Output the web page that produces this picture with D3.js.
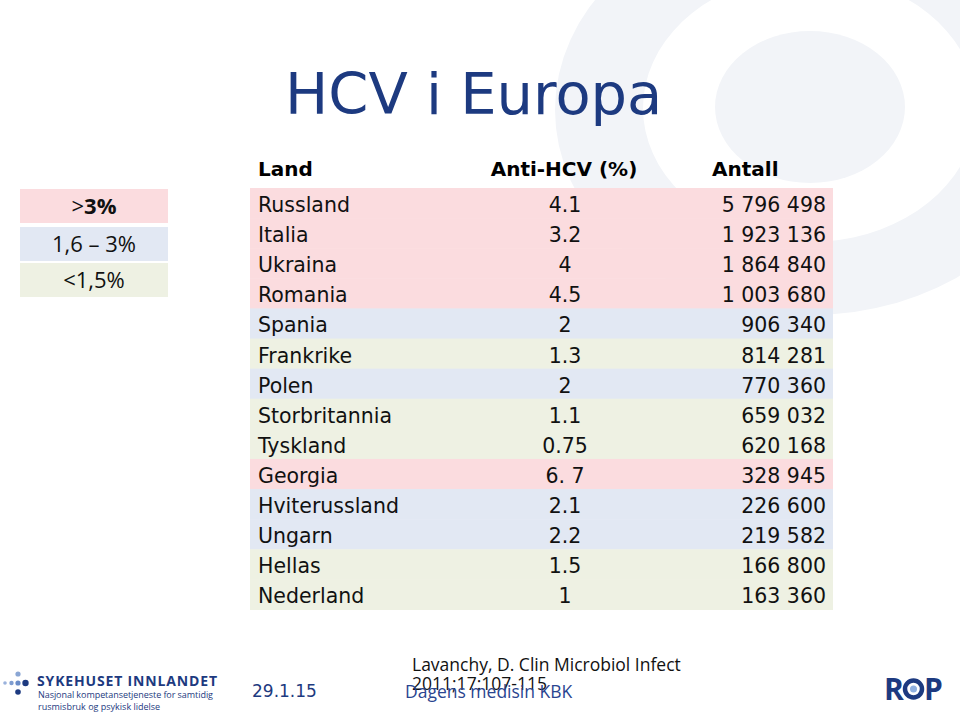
<!DOCTYPE html>
<html>
<head>
<meta charset="utf-8">
<script src="https://cdn.jsdelivr.net/npm/d3@7"></script>
<style>
  body { margin: 0; background: #fff; }
  svg { display: block; }
  .cell { font-family: "DejaVu Sans", sans-serif; font-size: 20.5px; fill: #111; }
  .head { font-family: "DejaVu Sans", sans-serif; font-size: 20px; font-weight: bold; fill: #000; }
  .legend-text { font-family: "Open Sans", sans-serif; font-size: 22px; fill: #111; }
  .foot { font-family: "Open Sans", sans-serif; font-size: 17.5px; fill: #111; }
</style>
</head>
<body>
<div id="chart"></div>
<script>
// table data
const countries = ["Russland", "Italia", "Ukraina", "Romania", "Spania", "Frankrike", "Polen",
    "Storbritannia", "Tyskland", "Georgia", "Hviterussland", "Ungarn", "Hellas", "Nederland"];
const prevalence = ["4.1", "3.2", "4", "4.5", "2", "1.3", "2", "1.1", "0.75", "6. 7", "2.1", "2.2", "1.5", "1"];
const antall = [5796498, 1923136, 1864840, 1003680, 906340, 814281, 770360,
    659032, 620168, 328945, 226600, 219582, 166800, 163360];

const headers = ["Land", "Anti-HCV (%)", "Antall"];
const legendLabels = ["<1,5%", "1,6 \u2013 3%", ">3%"];
const legendColors = ["#eef1e3", "#e2e8f3", "#fbdcdf"];

const width = 960;
const height = 715;
const navy = "#1d3a80";

// svg container
const svg = d3.select("#chart").append("svg")
    .attr("width", width)
    .attr("height", height);

// faint background logo ring
function ellipsePath(p, cx, cy, rx, ry) {
    p.moveTo(cx + rx, cy);
    for (let a = 1; a <= 72; a++) {
        const t = a / 72 * 2 * Math.PI;
        p.lineTo(cx + rx * Math.cos(t), cy + ry * Math.sin(t));
    }
    p.closePath();
}
const bg = svg.append("g").attr("fill", "#f2f4f8");
bg.append("path")
    .attr("fill-rule", "evenodd")
    .attr("d", () => {
        const p = d3.path();
        ellipsePath(p, 810, 110, 255, 205);
        ellipsePath(p, 810, 108, 167, 134);
        return p.toString();
    });
bg.append("ellipse")
    .attr("cx", 810).attr("cy", 107)
    .attr("rx", 95).attr("ry", 76);

// title
svg.append("text")
    .attr("x", 285)
    .attr("y", 114)
    .attr("font-family", "DejaVu Sans, sans-serif")
    .attr("font-size", 57.5)
    .attr("fill", navy)
    .text("HCV i Europa");

// table scales
const tableLeft = 250, tableRight = 833;
const y = d3.scaleBand()
    .domain(countries)
    .range([188, 609.5]);

const color = d3.scaleThreshold()
    .domain([1.55, 3.05])
    .range(legendColors);

const parsePrev = s => +s.replace(/\s/g, "");
const fmt = d3.formatLocale({ decimal: ".", thousands: " ", grouping: [3], currency: ["", ""] }).format(",d");

const rows = countries.map((c, i) => ({ land: c, prev: prevalence[i], antall: antall[i] }));

// header
const headG = svg.append("g").attr("class", "head");
headG.append("text").attr("x", 258).attr("y", 176).text(headers[0]);
headG.append("text").attr("x", 564).attr("y", 176).attr("text-anchor", "middle").text(headers[1]);
headG.append("text").attr("x", 712).attr("y", 176).text(headers[2]);

// rows
const rowG = svg.append("g")
    .selectAll("g")
    .data(rows)
    .join("g")
    .attr("transform", d => `translate(0, ${y(d.land)})`);

rowG.append("rect")
    .attr("x", tableLeft)
    .attr("width", tableRight - tableLeft)
    .attr("height", y.bandwidth() + 0.5)
    .attr("fill", d => color(parsePrev(d.prev)));

const baseY = y.bandwidth() / 2 + 9;
rowG.append("text")
    .attr("class", "cell")
    .attr("x", 258)
    .attr("y", baseY)
    .text(d => d.land);
rowG.append("text")
    .attr("class", "cell")
    .attr("x", 565)
    .attr("y", baseY)
    .attr("text-anchor", "middle")
    .text(d => d.prev);
rowG.append("text")
    .attr("class", "cell")
    .attr("x", 826)
    .attr("y", baseY)
    .attr("text-anchor", "end")
    .text(d => fmt(d.antall));

// legend (top to bottom: >3%, 1,6-3%, <1,5%)
const legendTops = [189, 227, 263];
const legendData = legendLabels.slice().reverse().map((l, i) => ({
    label: l, color: legendColors[legendColors.length - 1 - i], top: legendTops[i]
}));
const legG = svg.append("g")
    .selectAll("g")
    .data(legendData)
    .join("g")
    .attr("transform", d => `translate(20, ${d.top})`);
legG.append("rect")
    .attr("width", 148)
    .attr("height", 34)
    .attr("fill", d => d.color);
const legText = legG.append("text")
    .attr("class", "legend-text")
    .attr("x", 74)
    .attr("y", 25)
    .attr("text-anchor", "middle");
legText.each(function(d) {
    const t = d3.select(this);
    if (d.label.startsWith(">")) {
        t.append("tspan").text(">");
        t.append("tspan").attr("font-weight", "bold").text(d.label.slice(1));
    } else {
        t.text(d.label);
    }
});

// footer (the citation overlaps the footer text in the original slide)
svg.append("text").attr("class", "foot").attr("x", 412).attr("y", 671)
    .text("Lavanchy, D. Clin Microbiol Infect");
svg.append("text").attr("class", "foot").attr("x", 412).attr("y", 690)
    .text("2011;17:107-115");
svg.append("text").attr("class", "foot").attr("x", 405).attr("y", 698)
    .style("fill", "#2a4590")
    .text("Dagens medisin KBK");
svg.append("text")
    .attr("x", 252).attr("y", 697)
    .attr("font-family", "DejaVu Sans, sans-serif")
    .attr("font-size", 17)
    .attr("fill", navy)
    .text("29.1.15");

// Sykehuset Innlandet logo
const logo = svg.append("g");
const dots = [
    { x: 18, y: 674, r: 2.6, c: "#8aa6d4" },
    { x: 5, y: 683, r: 1.8, c: "#9ab2dc" },
    { x: 11.5, y: 683, r: 2.2, c: "#7f9dd0" },
    { x: 18, y: 683, r: 2.6, c: "#6a8cc8" },
    { x: 25.5, y: 683, r: 3.2, c: navy },
    { x: 18, y: 692, r: 2.8, c: navy }
];
logo.selectAll("circle")
    .data(dots)
    .join("circle")
    .attr("cx", d => d.x)
    .attr("cy", d => d.y)
    .attr("r", d => d.r)
    .attr("fill", d => d.c);
logo.append("text")
    .attr("x", 37).attr("y", 686)
    .attr("font-family", "Open Sans, sans-serif")
    .attr("font-weight", "bold")
    .attr("font-size", 14)
    .attr("textLength", 180)
    .attr("fill", navy)
    .text("SYKEHUSET INNLANDET");
logo.append("text")
    .attr("x", 38).attr("y", 698)
    .attr("font-family", "Open Sans, sans-serif")
    .attr("font-size", 9)
    .attr("textLength", 175)
    .attr("fill", navy)
    .text("Nasjonal kompetansetjeneste for samtidig");
logo.append("text")
    .attr("x", 38).attr("y", 710)
    .attr("font-family", "Open Sans, sans-serif")
    .attr("font-size", 9)
    .attr("fill", navy)
    .text("rusmisbruk og psykisk lidelse");

// ROP logo
const rop = svg.append("g")
    .attr("font-family", "Open Sans, sans-serif")
    .attr("font-weight", "bold")
    .attr("font-size", 30)
    .attr("fill", navy);
rop.append("text").attr("x", 884).attr("y", 700).text("R");
rop.append("circle").attr("cx", 913.5).attr("cy", 689).attr("r", 8.5)
    .attr("fill", "none").attr("stroke", navy).attr("stroke-width", 4.5);
rop.append("circle").attr("cx", 913.5).attr("cy", 689).attr("r", 3.5).attr("fill", "#8fb0e0");
rop.append("text").attr("x", 924).attr("y", 700).text("P");
</script>
</body>
</html>
